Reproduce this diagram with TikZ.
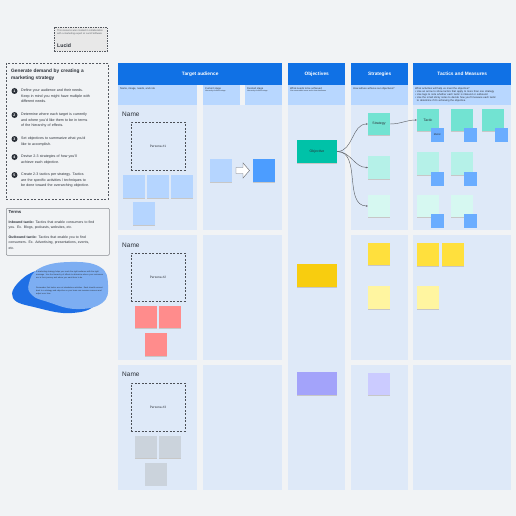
\documentclass[tikz,border=0pt]{standalone}
\usepackage{fontspec}
\setmainfont{Liberation Sans}
\usetikzlibrary{arrows.meta,shadows}
\hyphenpenalty=10000
\exhyphenpenalty=10000
\definecolor{bg}{HTML}{F1F3F5}
\definecolor{cell}{HTML}{DEE9F8}
\definecolor{hdr}{HTML}{1071E5}
\definecolor{sub}{HTML}{B8D7FF}
\definecolor{nlb}{HTML}{B5D5FF}
\definecolor{ndes}{HTML}{4C9DFF}
\definecolor{teal}{HTML}{00C2A8}
\definecolor{tealA}{HTML}{72E3D2}
\definecolor{tealB}{HTML}{B5F1E8}
\definecolor{tealC}{HTML}{D6F8F1}
\definecolor{metric}{HTML}{6AADFF}
\definecolor{red}{HTML}{FF8C8C}
\definecolor{yobj}{HTML}{F8CD0F}
\definecolor{ystr}{HTML}{FFE03D}
\definecolor{ylt}{HTML}{FFF5A0}
\definecolor{pobj}{HTML}{A3A3FA}
\definecolor{plt}{HTML}{CBCBFF}
\definecolor{gst}{HTML}{CBD3DC}
\definecolor{ink}{HTML}{2B3038}
\definecolor{blobD}{HTML}{1F6FE5}
\definecolor{blobL}{HTML}{7DAEF2}
\tikzset{
  hdrbox/.style={fill=hdr, draw=none, anchor=north west, inner sep=0, text=white, font=\fontsize{4.8}{6}\selectfont\bfseries},
  subbox/.style={fill=sub, draw=none, anchor=north west, inner sep=0},
  cellbox/.style={fill=cell, draw=none, anchor=north west, inner sep=0},
  subtxt/.style={anchor=north west, inner sep=0, align=left, text=ink, font=\fontsize{2.6}{3.2}\selectfont},
  sticky/.style={draw=none, inner sep=0, minimum width=22, minimum height=22, text=ink, font=\fontsize{3.5}{4}\selectfont,
     drop shadow={shadow xshift=0pt, shadow yshift=-0.8pt, fill=black!22, opacity=1}},
  metricbox/.style={fill=metric, draw=none, inner sep=0, minimum width=13, minimum height=14, text=ink, font=\fontsize{2.6}{3}\selectfont},
  persona/.style={draw=ink!85, dashed, dash pattern=on 2pt off 1.5pt, line width=0.5pt, minimum width=54, minimum height=48, inner sep=0, text=ink, font=\fontsize{3.2}{4}\selectfont},
  namelbl/.style={anchor=west, inner sep=0, text=ink, font=\fontsize{6.5}{7}\selectfont},
  numdot/.style={circle, fill=ink, text=white, inner sep=0, minimum size=6, font=\fontsize{3.6}{4}\selectfont\bfseries},
  itemtxt/.style={anchor=north west, inner sep=0, text width=83, align=left, text=ink, font=\fontsize{3.6}{5.9}\selectfont},
  conn/.style={draw=ink!75, line width=0.45pt, -{Stealth[length=2pt,width=1.8pt]}},
}
\begin{document}
\begin{tikzpicture}[x=1pt,y=-1pt]
\fill[bg] (0,0) rectangle (516,516);
\useasboundingbox (0,0) rectangle (516,516);

% logo box
\node[draw=ink!80, dashed, dash pattern=on 1.5pt off 1pt, line width=0.5pt, fill=black!9, anchor=north west, minimum width=53, minimum height=24, inner sep=0] (logo) at (54,27) {};
\node[anchor=north west, inner sep=0, text width=47, align=left, text=ink!80, font=\fontsize{2.4}{3}\selectfont] (logotxt) at (57,30) {This resource was created in collaboration with a marketing expert at Lucid Software};
\node[anchor=west, inner sep=0, text=ink, font=\fontsize{5.2}{6}\selectfont\bfseries] (lucid) at (57,46) {Lucid};

% instruction panel
\node[draw=ink!80, dashed, dash pattern=on 2pt off 1.5pt, line width=0.5pt, anchor=north west, minimum width=102, minimum height=136, inner sep=0] (panel) at (6,63) {};
\node[anchor=north west, inner sep=0, text width=92, align=left, text=ink, font=\fontsize{4.8}{7.6}\selectfont\bfseries] (ptitle) at (11,68.5) {Generate demand by creating a\\marketing strategy};
\node[numdot] (d1) at (14.5,91) {1};
\node[itemtxt] (i1) at (21,88.3) {Define your audience and their needs.\\Keep in mind you might have multiple with\\different needs.};
\node[numdot] (d2) at (14.5,115) {2};
\node[itemtxt] (i2) at (21,112.3) {Determine where each target is currently\\and where you'd like them to be in terms\\of the hierarchy of effects.};
\node[numdot] (d3) at (14.5,139) {3};
\node[itemtxt] (i3) at (21,136.3) {Set objectives to summarize what you'd\\like to accomplish.};
\node[numdot] (d4) at (14.5,157) {4};
\node[itemtxt] (i4) at (21,154.3) {Devise 2-3 strategies of how you'll\\achieve each objective.};
\node[numdot] (d5) at (14.5,175) {5};
\node[itemtxt] (i5) at (21,172.3) {Create 2-3 tactics per strategy. Tactics\\are the specific activities / techniques to\\be done toward the overarching objective.};

% terms box
\node[draw=ink!55, line width=0.5pt, rounded corners=1pt, fill=bg, anchor=north west, minimum width=103, minimum height=47, inner sep=0] (terms) at (6,208) {};
\node[anchor=north west, inner sep=0, text=ink, font=\fontsize{4.3}{5}\selectfont\bfseries] (termsT) at (8.5,210.5) {Terms};
\node[anchor=north west, inner sep=0, text width=98, align=left, text=ink, font=\fontsize{3.5}{5.6}\selectfont] (inb) at (8.5,220.5) {\textbf{Inbound tactic:} Tactics that enable consumers to find\\you. Ex. Blogs, podcasts, websites, etc.};
\node[anchor=north west, inner sep=0, text width=98, align=left, text=ink, font=\fontsize{3.5}{5.6}\selectfont] (outb) at (8.5,235.5) {\textbf{Outbound tactic:} Tactics that enable you to find\\consumers. Ex. Advertising, presentations, events,\\etc.};

% blob
\fill[blobD] plot[smooth cycle, tension=0.75] coordinates {(13,298) (22,279) (45,269) (72,271) (96,284) (96,304) (72,313) (38,308)};
\fill[blobL] plot[smooth cycle, tension=0.75] coordinates {(29,283) (40,268) (70,262) (100,267) (108,285) (102,303) (76,309) (48,302) (32,295)};
\node[anchor=north west, inner sep=0, text width=68, align=left, text=ink, font=\fontsize{2}{2.7}\selectfont] (blobt1) at (36,271) {A marketing strategy helps you reach the right audience with the right message. Use the hierarchy of effects to determine where your customers are in their journey and where you want them to be.};
\node[anchor=north west, inner sep=0, text width=68, align=left, text=ink, font=\fontsize{2}{2.7}\selectfont] (blobt2) at (36,287) {Remember that tactics are not standalone activities. Each should connect back to a strategy and objective so your team can measure success and adjust over time.};

% headers
\node[hdrbox, minimum width=164, minimum height=22] (hTA) at (118,63) {Target audience};
\node[hdrbox, minimum width=57, minimum height=22] (hOB) at (288,63) {Objectives};
\node[hdrbox, minimum width=57, minimum height=22] (hST) at (351,63) {Strategies};
\node[hdrbox, minimum width=98, minimum height=22] (hTM) at (413,63) {Tactics and Measures};

% subheaders
\node[subbox, minimum width=79, minimum height=20] (sName) at (118,85) {};
\node[subbox, minimum width=37, minimum height=20] (sCur) at (203,85) {};
\node[subbox, minimum width=37, minimum height=20] (sDes) at (245,85) {};
\node[subbox, minimum width=57, minimum height=20] (sOB) at (288,85) {};
\node[subbox, minimum width=57, minimum height=20] (sST) at (351,85) {};
\node[subbox, minimum width=98, minimum height=20] (sTM) at (413,85) {};
\node[subtxt] (tName) at (120,87) {Name, image, needs, and role};
\node[subtxt] (tCur) at (205,87) {Current stage\\[-0.6pt]{\fontsize{1.8}{2.2}\selectfont Hierarchy of effects stage}};
\node[subtxt] (tDes) at (247,87) {Desired stage\\[-0.6pt]{\fontsize{1.8}{2.2}\selectfont Hierarchy of effects stage}};
\node[subtxt] (tOB) at (290,87) {What needs to be achieved\\[-0.6pt]{\fontsize{1.8}{2.2}\selectfont Use measurable terms and a clear timeframe}};
\node[subtxt] (tST) at (353,87) {How will we achieve our objectives?};
\node[subtxt, text width=95] (tTM) at (415,87) {What activities will help us meet the objective?\\
\textbullet\ Use an arrow to show tactics that apply to more than one strategy\\
\textbullet\ Use tags to note whether each tactic is inbound or outbound\\
\textbullet\ Use the small sticky notes to decide how you'll measure each tactic\\\phantom{\textbullet\ }to determine if it's achieving the objective.};

% cells
\node[cellbox, minimum width=79, minimum height=125] (c1n) at (118,105) {};
\node[cellbox, minimum width=79, minimum height=125] (c1s) at (203,105) {};
\node[cellbox, minimum width=57, minimum height=385] (cOB) at (288,105) {};
\node[cellbox, minimum width=57, minimum height=125] (c1st) at (351,105) {};
\node[cellbox, minimum width=98, minimum height=125] (c1t) at (413,105) {};
\node[cellbox, minimum width=79, minimum height=125] (c2n) at (118,235) {};
\node[cellbox, minimum width=79, minimum height=125] (c2s) at (203,235) {};
\node[cellbox, minimum width=57, minimum height=125] (c2st) at (351,235) {};
\node[cellbox, minimum width=98, minimum height=125] (c2t) at (413,235) {};
\node[cellbox, minimum width=79, minimum height=125] (c3n) at (118,365) {};
\node[cellbox, minimum width=79, minimum height=125] (c3s) at (203,365) {};
\node[cellbox, minimum width=57, minimum height=125] (c3st) at (351,365) {};
\node[cellbox, minimum width=98, minimum height=125] (c3t) at (413,365) {};

% row 1
\node[namelbl] (name1) at (122,114) {Name};
\node[persona] (p1) at (158,146) {Persona \#1};
\node[sticky, fill=nlb, minimum height=23] (n1a) at (134,186.5) {};
\node[sticky, fill=nlb, minimum height=23] (n1b) at (158,186.5) {};
\node[sticky, fill=nlb, minimum height=23] (n1c) at (182,186.5) {};
\node[sticky, fill=nlb, minimum height=23] (n1d) at (144,213.5) {};
\node[sticky, fill=nlb, minimum height=23] (cur1) at (221,170.5) {};
\node[sticky, fill=ndes, minimum height=23] (des1) at (264,170.5) {};
\draw[ink!70, fill=white, line width=0.45pt, line join=miter] (236,167.5) -- (243,167.5) -- (243,163) -- (249.5,170.5) -- (243,178) -- (243,173.5) -- (236,173.5) -- cycle;
\node[sticky, fill=teal, minimum width=40, minimum height=23] (obj1) at (317,151.5) {Objective};
\node[sticky, fill=tealA] (s1a) at (379,124) {Strategy};
\node[sticky, fill=tealB, minimum height=23] (s1b) at (379,167.5) {};
\node[sticky, fill=tealC] (s1c) at (379,206) {};
\node[sticky, fill=tealA] (t1a) at (428,120) {Tactic};
\node[sticky, fill=tealA] (t1b) at (462,120) {};
\node[sticky, fill=tealA] (t1c) at (493,120) {};
\node[metricbox] (m1a) at (437.5,135) {Metric};
\node[metricbox] (m1b) at (470.5,135) {};
\node[metricbox] (m1c) at (501.5,135) {};
\node[sticky, fill=tealB, minimum height=23] (t2a) at (428,163.5) {};
\node[sticky, fill=tealB, minimum height=23] (t2b) at (462,163.5) {};
\node[metricbox] (m2a) at (437.5,178.5) {};
\node[metricbox] (m2b) at (470.5,178.5) {};
\node[sticky, fill=tealC] (t3a) at (428,206) {};
\node[sticky, fill=tealC] (t3b) at (462,206) {};
\node[metricbox] (m3a) at (437.5,221) {};
\node[metricbox] (m3b) at (470.5,221) {};
\draw[conn] (obj1.east) to[out=0, in=180] (s1a.west);
\draw[conn] (obj1.east) to[out=0, in=180] (s1b.west);
\draw[conn] (obj1.east) to[out=0, in=180] (s1c.west);
\draw[conn] (s1a.east) to[out=0, in=180] (t1a.west);

% row 2
\node[namelbl] (name2) at (122,245) {Name};
\node[persona] (p2) at (158,277) {Persona \#2};
\node[sticky, fill=red] (r2a) at (146,317) {};
\node[sticky, fill=red] (r2b) at (170,317) {};
\node[sticky, fill=red, minimum height=23] (r2c) at (156,344.5) {};
\node[sticky, fill=yobj, minimum width=40, minimum height=23] (obj2) at (317,275.5) {};
\node[sticky, fill=ystr] (s2a) at (379,254) {};
\node[sticky, fill=ylt, minimum height=23] (s2b) at (379,297.5) {};
\node[sticky, fill=ystr, minimum height=23] (t4a) at (428,254.5) {};
\node[sticky, fill=ystr, minimum height=23] (t4b) at (453,254.5) {};
\node[sticky, fill=ylt, minimum height=23] (t5a) at (428,297.5) {};

% row 3
\node[namelbl] (name3) at (122,374) {Name};
\node[persona] (p3) at (158,407) {Persona \#3};
\node[sticky, fill=gst] (g3a) at (146,447) {};
\node[sticky, fill=gst] (g3b) at (170,447) {};
\node[sticky, fill=gst, minimum height=23] (g3c) at (156,474) {};
\node[sticky, fill=pobj, minimum width=40, minimum height=23] (obj3) at (317,383.5) {};
\node[sticky, fill=plt] (s3a) at (379,384) {};
\end{tikzpicture}
\end{document}
